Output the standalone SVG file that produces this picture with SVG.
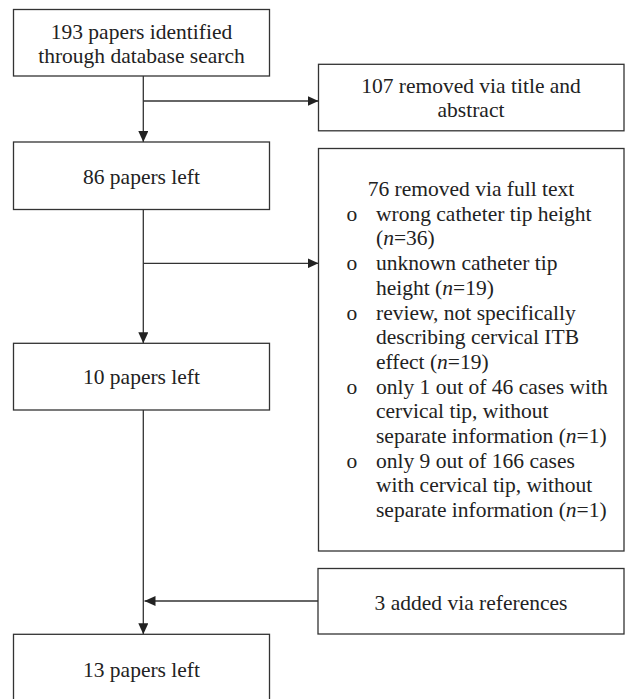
<svg xmlns="http://www.w3.org/2000/svg" width="627" height="699" viewBox="0 0 627 699">
<style>
.box{fill:#fff;stroke:#333;stroke-width:1.3}
.t{font-family:"Liberation Serif","Times New Roman",serif;font-size:21.5px;fill:#222}
.c{text-anchor:middle}
.ln{stroke:#333;stroke-width:1.3;fill:none}
</style>
<defs>
<marker id="ah" markerWidth="11" markerHeight="10" refX="11" refY="5" orient="auto" markerUnits="userSpaceOnUse">
<path d="M0,0 L11,5 L0,10 Z" fill="#222"/>
</marker>
</defs>
<rect width="627" height="699" fill="#fff"/>
<g id="connectors">
<line class="ln" x1="143.3" y1="76" x2="143.3" y2="142" marker-end="url(#ah)"/>
<line class="ln" x1="143.3" y1="101" x2="318.5" y2="101" marker-end="url(#ah)"/>
<line class="ln" x1="143.3" y1="209.5" x2="143.3" y2="343.3" marker-end="url(#ah)"/>
<line class="ln" x1="143.3" y1="263.3" x2="318.5" y2="263.3" marker-end="url(#ah)"/>
<line class="ln" x1="143.3" y1="410" x2="143.3" y2="634.3" marker-end="url(#ah)"/>
<line class="ln" x1="318" y1="601" x2="144.5" y2="601" marker-end="url(#ah)"/>
</g>
<g id="n1">
<rect class="box" x="13.5" y="9.5" width="256" height="66.5"/>
<text class="t c" x="141.5" y="39">193 papers identified</text>
<text class="t c" x="141.5" y="63">through database search</text>
</g>
<g id="n2">
<rect class="box" x="318.5" y="64.3" width="305.5" height="66.5"/>
<text class="t c" x="471" y="93">107 removed via title and</text>
<text class="t c" x="471" y="117">abstract</text>
</g>
<g id="n3">
<rect class="box" x="13.5" y="142" width="256" height="67.5"/>
<text class="t c" x="141.5" y="184.3">86 papers left</text>
</g>
<g id="n4">
<rect class="box" x="318.5" y="148.5" width="305.5" height="402.5"/>
<text class="t c" x="471" y="196">76 removed via full text</text>
<text class="t" x="346.5" y="220.7">o</text>
<text class="t" x="376" y="220.7">wrong catheter tip height</text>
<text class="t" x="376" y="245.4">(<tspan font-style="italic">n</tspan>=36)</text>
<text class="t" x="346.5" y="270.1">o</text>
<text class="t" x="376" y="270.1">unknown catheter tip</text>
<text class="t" x="376" y="294.8">height (<tspan font-style="italic">n</tspan>=19)</text>
<text class="t" x="346.5" y="319.5">o</text>
<text class="t" x="376" y="319.5">review, not specifically</text>
<text class="t" x="376" y="344.2">describing cervical ITB</text>
<text class="t" x="376" y="368.9">effect (<tspan font-style="italic">n</tspan>=19)</text>
<text class="t" x="346.5" y="393.6">o</text>
<text class="t" x="376" y="393.6">only 1 out of 46 cases with</text>
<text class="t" x="376" y="418.3">cervical tip, without</text>
<text class="t" x="376" y="443">separate information (<tspan font-style="italic">n</tspan>=1)</text>
<text class="t" x="346.5" y="467.7">o</text>
<text class="t" x="376" y="467.7">only 9 out of 166 cases</text>
<text class="t" x="376" y="492.4">with cervical tip, without</text>
<text class="t" x="376" y="517.1">separate information (<tspan font-style="italic">n</tspan>=1)</text>
</g>
<g id="n5">
<rect class="box" x="13.5" y="343.3" width="256" height="66.7"/>
<text class="t c" x="141.5" y="384.3">10 papers left</text>
</g>
<g id="n6">
<rect class="box" x="318" y="568.5" width="306" height="65.5"/>
<text class="t c" x="471" y="610">3 added via references</text>
</g>
<g id="n7">
<rect class="box" x="13.5" y="634.3" width="256" height="67"/>
<text class="t c" x="141.5" y="676.7">13 papers left</text>
</g>
</svg>
